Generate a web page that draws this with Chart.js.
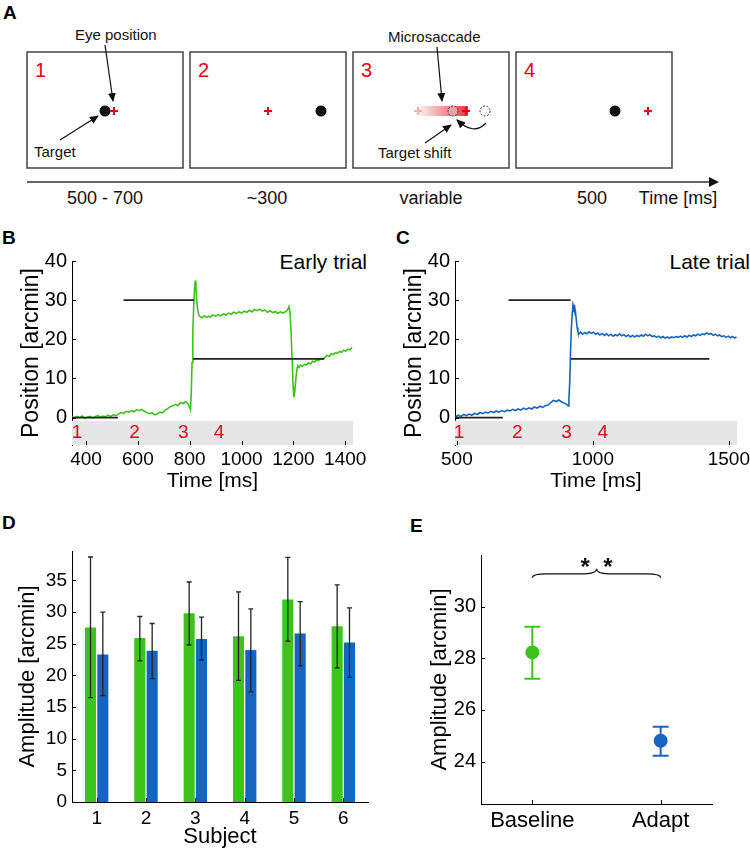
<!DOCTYPE html>
<html>
<head>
<meta charset="utf-8">
<script src="https://cdn.jsdelivr.net/npm/chart.js@4.4.1/dist/chart.umd.min.js"></script>
<style>
    body { margin: 0; background: #fff; font-family: "Liberation Sans", Arial, sans-serif; }
    #fig { position: relative; width: 750px; height: 853px; overflow: hidden; }
    canvas { position: absolute; }
    .panel { position: absolute; font-weight: bold; font-size: 19px; line-height: 1; }
    .note { position: absolute; font-size: 21px; line-height: 1; white-space: nowrap; }
</style>
</head>
<body>
<div id="fig">
    <!-- Panel A: trial schematic -->
    <svg width="750" height="212" style="position:absolute;left:0;top:0" font-family="Liberation Sans, Arial, sans-serif">
        <defs>
            <marker id="ah" markerWidth="9" markerHeight="8" refX="8" refY="4" orient="auto" markerUnits="userSpaceOnUse">
                <path d="M0,0 L9,4 L0,8 z" fill="#111"/>
            </marker>
            <linearGradient id="sweep" x1="0" x2="1" y1="0" y2="0">
                <stop offset="0" stop-color="#e8141e" stop-opacity="0.04"/>
                <stop offset="1" stop-color="#e8141e" stop-opacity="0.85"/>
            </linearGradient>
        </defs>
        <g fill="none" stroke="#444" stroke-width="1.5">
            <rect x="27" y="52" width="156" height="116"/>
            <rect x="190" y="52" width="156" height="116"/>
            <rect x="353" y="52" width="156" height="116"/>
            <rect x="516" y="52" width="156" height="116"/>
        </g>
        <g fill="#e3001b" font-size="20">
            <text x="35" y="77">1</text>
            <text x="198" y="77">2</text>
            <text x="361" y="77">3</text>
            <text x="524" y="77">4</text>
        </g>
        <!-- box 1 -->
        <circle cx="105" cy="111" r="5.5" fill="#111"/>
        <path d="M110 111 H118 M114 107 V115" stroke="#e3001b" stroke-width="2"/>
        <text x="75" y="40" font-size="15" fill="#111">Eye position</text>
        <line x1="105" y1="45" x2="113" y2="101" stroke="#111" stroke-width="1.2" marker-end="url(#ah)"/>
        <text x="34" y="157" font-size="15" fill="#111">Target</text>
        <line x1="60" y1="140" x2="98" y2="116" stroke="#111" stroke-width="1.2" marker-end="url(#ah)"/>
        <!-- box 2 -->
        <path d="M264 111 H272 M268 107 V115" stroke="#e3001b" stroke-width="2"/>
        <circle cx="321" cy="111" r="5.5" fill="#111"/>
        <!-- box 3 -->
        <rect x="418" y="106" width="50" height="10" fill="url(#sweep)"/>
        <path d="M414 111 H422 M418 107 V115" stroke="#e3001b" stroke-opacity="0.3" stroke-width="2"/>
        <circle cx="453" cy="111" r="5" fill="#f3a0a8" stroke="#333" stroke-width="1" stroke-dasharray="2,1.5"/>
        <path d="M462 111 H470 M466 107 V115" stroke="#e3001b" stroke-width="2"/>
        <circle cx="485" cy="111" r="5" fill="none" stroke="#333" stroke-width="1" stroke-dasharray="2,1.5"/>
        <path d="M486 123 Q474 136 457 120" fill="none" stroke="#111" stroke-width="1.2" marker-end="url(#ah)"/>
        <text x="388" y="42" font-size="15" fill="#111">Microsaccade</text>
        <line x1="437" y1="47" x2="442" y2="101" stroke="#111" stroke-width="1.2" marker-end="url(#ah)"/>
        <text x="378" y="158" font-size="15" fill="#111">Target shift</text>
        <line x1="425" y1="143" x2="451" y2="125" stroke="#111" stroke-width="1.2" marker-end="url(#ah)"/>
        <!-- box 4 -->
        <circle cx="615" cy="111" r="5.5" fill="#111"/>
        <path d="M644 111 H652 M648 107 V115" stroke="#e3001b" stroke-width="2"/>
        <!-- timeline -->
        <line x1="27" y1="182" x2="710" y2="182" stroke="#333" stroke-width="1.5"/>
        <polygon points="709,177 719,182 709,187" fill="#111"/>
        <g font-size="18" fill="#111" text-anchor="middle">
            <text x="105" y="204">500 - 700</text>
            <text x="267" y="204">~300</text>
            <text x="431" y="204">variable</text>
            <text x="592" y="204">500</text>
            <text x="678" y="204">Time [ms]</text>
        </g>
    </svg>
    <div class="panel" style="left:3px;top:3px">A</div>
    <div class="panel" style="left:2px;top:228px">B</div>
    <div class="panel" style="left:396px;top:228px">C</div>
    <div class="panel" style="left:2px;top:513px">D</div>
    <div class="panel" style="left:410px;top:516px">E</div>
    <div class="note" style="right:383px;top:251px">Early trial</div>
    <div class="note" style="right:0px;top:251px">Late trial</div>

    <canvas id="chartB" width="360" height="248" style="left:15px;top:250px"></canvas>
    <canvas id="chartC" width="352" height="248" style="left:398px;top:250px"></canvas>
    <canvas id="chartD" width="370" height="313" style="left:11px;top:540px"></canvas>
    <canvas id="chartE" width="309" height="308" style="left:423px;top:545px"></canvas>
</div>

<script>
// ---- Data ----

// B: early trial eye trace
const timeB = [345, 355, 365, 375, 385, 395, 405, 415, 425, 435, 445, 455, 465, 475, 485, 495, 505, 515, 525, 535,
    545, 555, 565, 575, 585, 595, 605, 615, 625, 635, 645, 655, 665, 675, 685, 695, 705, 715, 725, 735,
    745, 755, 765, 775, 785, 793, 799, 803, 806, 809, 812, 815, 818, 821, 824, 827, 831, 835, 840, 848,
    856, 864, 872, 880, 890, 900, 910, 920, 930, 940, 950, 960, 970, 980, 990, 1000, 1010, 1020, 1030, 1040,
    1050, 1060, 1070, 1080, 1090, 1100, 1110, 1120, 1130, 1140, 1150, 1160, 1170, 1178, 1183, 1187, 1191, 1195, 1199, 1202,
    1205, 1209, 1213, 1217, 1222, 1228, 1235, 1243, 1250, 1258, 1266, 1274, 1282, 1290, 1298, 1306, 1314, 1322, 1330, 1338,
    1346, 1354, 1362, 1370, 1378, 1386, 1394, 1402, 1410, 1418, 1426];
const posB = [0.2, -0.1, 0.3, 0.0, 0.4, -0.2, 0.1, 0.3, -0.1, 0.2, 0.5, 0.1, 0.4, 0.2, 0.6, 0.3, 0.7, 0.5, 0.9, 1.3,
    1.1, 1.6, 1.4, 1.8, 1.5, 2.0, 1.8, 2.1, 1.6, 1.3, 1.0, 1.2, 0.7, 1.0, 1.4, 1.2, 1.9, 2.3, 2.8, 3.0,
    3.4, 3.1, 3.8, 3.6, 4.1, 3.5, 2.8, 2.0, 6.0, 14.0, 22.0, 27.5, 32.0, 35.0, 33.5, 30.0, 27.5, 26.3, 25.8, 25.5,
    26.0, 25.6, 25.9, 25.7, 26.2, 25.9, 26.3, 26.0, 26.5, 26.2, 26.7, 26.4, 26.9, 26.6, 27.0, 26.7, 27.2, 26.9, 27.4, 27.0,
    27.6, 27.3, 27.7, 27.2, 27.5, 26.9, 27.3, 26.8, 27.1, 26.6, 27.0, 26.7, 27.1, 27.6, 28.4, 27.0, 22.0, 15.0, 8.0, 5.2,
    6.5, 9.5, 12.0, 13.3, 12.8, 13.4, 13.1, 13.6, 13.4, 14.0, 13.7, 14.4, 14.2, 14.8, 14.6, 15.1, 14.9, 15.4, 15.9, 15.6,
    16.3, 16.1, 16.6, 16.4, 16.9, 16.7, 17.2, 17.0, 17.5, 17.3, 17.9];
const targetStartB = [346, 545, 813];
const targetEndB = [523, 817, 1319];
const targetPosB = [0, 30, 15];
const phaseTimeB = [365, 587, 775, 913];
const xTicksB = [400, 600, 800, 1000, 1200, 1400];

// C: late trial eye trace
const timeC = [495, 505, 515, 525, 535, 545, 555, 565, 575, 585, 595, 605, 615, 625, 635, 645, 655, 665, 675, 685,
    695, 705, 715, 725, 735, 745, 755, 765, 775, 785, 795, 805, 815, 825, 835, 845, 855, 865, 875, 885,
    895, 903, 909, 912, 915, 918, 921, 924, 927, 930, 933, 936, 939, 942, 945, 949, 955, 962, 970, 978,
    986, 994, 1002, 1010, 1018, 1026, 1034, 1042, 1050, 1058, 1066, 1074, 1082, 1090, 1098, 1106, 1114, 1122, 1130, 1138,
    1146, 1154, 1162, 1170, 1178, 1186, 1194, 1202, 1210, 1218, 1226, 1234, 1242, 1250, 1258, 1266, 1274, 1282, 1290, 1298,
    1306, 1314, 1322, 1330, 1338, 1346, 1354, 1362, 1370, 1378, 1386, 1394, 1402, 1410, 1418, 1426, 1434, 1442, 1450, 1458,
    1466, 1474, 1482, 1490, 1498, 1506, 1514, 1522, 1528];
const posC = [0.2, 0.6, 0.3, 0.8, 0.5, 0.9, 0.6, 1.1, 0.8, 1.3, 1.0, 1.4, 1.2, 1.6, 1.3, 1.7, 1.4, 1.8, 1.5, 1.9,
    1.7, 2.1, 1.8, 2.2, 1.9, 2.4, 2.1, 2.5, 2.2, 2.7, 2.4, 2.9, 2.6, 3.0, 3.2, 3.8, 4.4, 4.1, 4.5, 4.0,
    3.7, 3.4, 3.0, 5.0, 9.0, 17.0, 23.0, 26.5, 28.8, 27.8, 28.3, 27.0, 25.0, 23.0, 22.0, 21.4, 21.8, 21.3, 21.7, 21.4,
    21.9, 21.5, 21.8, 21.3, 21.6, 21.1, 21.5, 21.0, 21.4, 20.9, 21.3, 20.8, 21.2, 20.9, 21.4, 20.9, 21.2, 20.7, 21.1, 20.6,
    21.0, 20.6, 21.0, 20.7, 21.1, 20.8, 21.3, 20.9, 21.2, 20.7, 20.9, 20.5, 20.8, 20.4, 20.7, 20.3, 20.6, 20.3, 20.6, 20.4,
    20.7, 20.5, 20.8, 20.5, 20.9, 20.6, 21.0, 20.7, 21.1, 20.9, 21.3, 21.0, 21.4, 21.2, 21.6, 21.3, 21.5, 21.0, 21.3, 20.9,
    21.1, 20.7, 20.9, 20.5, 20.8, 20.4, 20.7, 20.3, 20.6];
const targetStartC = [493, 690, 918];
const targetEndC = [669, 918, 1428];
const targetPosC = [0, 30, 15];
const phaseTimeC = [508, 722, 903, 1036];
const xTicksC = [500, 1000, 1500];

const yTicksTrace = [0, 10, 20, 30, 40];
const phaseLabels = ['1', '2', '3', '4'];

// D: amplitude per subject
const subjects = ['1', '2', '3', '4', '5', '6'];
const baseAmp = [27.55, 25.9, 29.8, 26.2, 32.0, 27.75];
const baseLo = [16.5, 22.3, 24.8, 19.2, 25.4, 21.2];
const baseHi = [38.7, 29.3, 34.75, 33.2, 38.65, 34.3];
const adaptAmp = [23.3, 23.9, 25.75, 24.0, 26.6, 25.2];
const adaptLo = [16.8, 19.5, 22.4, 17.4, 21.5, 19.7];
const adaptHi = [30.0, 28.2, 29.2, 30.5, 31.65, 30.65];
const yTicksD = [0, 5, 10, 15, 20, 25, 30, 35];

// E: group means
const groups = ['Baseline', 'Adapt'];
const meanAmp = [28.23, 24.81];
const meanLo = [27.21, 24.23];
const meanHi = [29.22, 25.35];
const yTicksE = [24, 26, 28, 30];
const sigPair = [1, 2];
const sigLevel = 31.27;
const sigLabel = '*  *';

// ---- Style ----
const GREEN = '#3cc41a';
const BLUE = '#1565c0';
const RED = '#e3001b';
const FONT = '"Liberation Sans", Arial, sans-serif';

Chart.defaults.font.family = FONT;
Chart.defaults.color = '#000';

// MATLAB-style tick marks pointing into the plot
const insideTicks = {
    id: 'insideTicks',
    afterDraw(chart, args, opts) {
        const ctx = chart.ctx;
        const len = opts.len || 4;
        const xs = chart.scales.x, ys = chart.scales.y;
        ctx.save();
        ctx.strokeStyle = '#000';
        ctx.lineWidth = 1;
        ctx.beginPath();
        ys.ticks.forEach((t, i) => {
            const py = Math.round(ys.getPixelForTick(i)) + 0.5;
            ctx.moveTo(ys.right, py);
            ctx.lineTo(ys.right + len, py);
        });
        xs.ticks.forEach((t, i) => {
            const px = Math.round(xs.getPixelForTick(i)) + 0.5;
            ctx.moveTo(px, xs.top);
            ctx.lineTo(px, xs.top - len);
        });
        ctx.stroke();
        ctx.restore();
    }
};

// red phase numbers inside the grey band
const phaseMarks = {
    id: 'phaseMarks',
    afterDatasetsDraw(chart, args, opts) {
        if (!opts.times) return;
        const ctx = chart.ctx;
        ctx.save();
        ctx.fillStyle = RED;
        ctx.font = '19px ' + FONT;
        ctx.textAlign = 'center';
        ctx.textBaseline = 'middle';
        opts.times.forEach((t, i) => {
            ctx.fillText(opts.labels[i], chart.scales.x.getPixelForValue(t), chart.scales.y.getPixelForValue(opts.y));
        });
        ctx.restore();
    }
};

const errorBars = {
    id: 'errorBars',
    afterDatasetsDraw(chart) {
        const ctx = chart.ctx, ys = chart.scales.y;
        chart.data.datasets.forEach((ds, di) => {
            if (!ds.errLo) return;
            const meta = chart.getDatasetMeta(di);
            ctx.save();
            ctx.strokeStyle = ds.errColor;
            ctx.lineWidth = ds.errWidth;
            meta.data.forEach((el, i) => {
                const x = el.x;
                const lo = ys.getPixelForValue(ds.errLo[i]);
                const hi = ys.getPixelForValue(ds.errHi[i]);
                ctx.beginPath();
                ctx.moveTo(x, lo); ctx.lineTo(x, hi);
                ctx.moveTo(x - ds.capHalf, lo); ctx.lineTo(x + ds.capHalf, lo);
                ctx.moveTo(x - ds.capHalf, hi); ctx.lineTo(x + ds.capHalf, hi);
                ctx.stroke();
            });
            ctx.restore();
        });
    }
};

// significance brace for panel E
const sigBrace = {
    id: 'sigBrace',
    afterDraw(chart) {
        const ctx = chart.ctx;
        const x1 = chart.scales.x.getPixelForValue(sigPair[0]);
        const x2 = chart.scales.x.getPixelForValue(sigPair[1]);
        const xm = (x1 + x2) / 2;
        const yb = chart.scales.y.getPixelForValue(sigLevel);
        ctx.save();
        ctx.strokeStyle = '#111';
        ctx.lineWidth = 1.2;
        ctx.beginPath();
        ctx.moveTo(x1, yb + 4);
        ctx.quadraticCurveTo(x1, yb, x1 + 14, yb);
        ctx.lineTo(xm - 12, yb);
        ctx.quadraticCurveTo(xm, yb, xm, yb - 5);
        ctx.quadraticCurveTo(xm, yb, xm + 12, yb);
        ctx.lineTo(x2 - 14, yb);
        ctx.quadraticCurveTo(x2, yb, x2, yb + 4);
        ctx.stroke();
        ctx.fillStyle = '#111';
        ctx.font = 'bold 24px ' + FONT;
        ctx.textAlign = 'center';
        ctx.textBaseline = 'alphabetic';
        ctx.fillText(sigLabel, xm, yb + 1);
        ctx.restore();
    }
};

const toPoints = (xs, ys) => xs.map((x, i) => ({ x: x, y: ys[i] }));

const segments = (starts, ends, levels) => {
    const pts = [];
    starts.forEach((s, i) => {
        pts.push({ x: s, y: levels[i] }, { x: ends[i], y: levels[i] }, { x: ends[i], y: null });
    });
    return pts;
};

const fixedTicks = list => scale => { scale.ticks = list.map(v => ({ value: v })); };

const noGrid = { display: false, drawTicks: false };

// ---- Eye trace panels (B, C) ----
const traceChart = (id, cfg) => {
    new Chart(document.getElementById(id), {
        type: 'line',
        data: {
            datasets: [
                {
                    data: segments(cfg.tStart, cfg.tEnd, cfg.tPos),
                    borderColor: '#222',
                    borderWidth: 1.6,
                    pointRadius: 0,
                    spanGaps: false,
                    order: 0
                },
                {
                    data: toPoints(cfg.time, cfg.pos),
                    borderColor: cfg.color,
                    borderWidth: 1.6,
                    pointRadius: 0,
                    tension: 0,
                    order: 1
                },
                {
                    data: [{ x: cfg.xMin, y: -0.8 }, { x: cfg.xMax, y: -0.8 }],
                    borderWidth: 0,
                    pointRadius: 0,
                    backgroundColor: '#e6e6e6',
                    fill: { value: -7 },
                    order: 2
                }
            ]
        },
        options: {
            responsive: false,
            animation: false,
            devicePixelRatio: 1,
            layout: { padding: { top: 11, right: cfg.padRight, left: 0, bottom: 0 } },
            plugins: {
                legend: { display: false },
                tooltip: { enabled: false },
                insideTicks: { len: 4 },
                phaseMarks: { times: cfg.phases, labels: phaseLabels, y: -4 }
            },
            scales: {
                x: {
                    type: 'linear',
                    min: cfg.xMin,
                    max: cfg.xMax,
                    afterBuildTicks: fixedTicks(cfg.xTicks),
                    afterFit: s => { s.height = 53; s.paddingLeft = 0; s.paddingRight = 0; },
                    grid: noGrid,
                    border: { display: false },
                    ticks: { font: { size: 19 }, padding: 3, maxRotation: 0, callback: v => String(v) },
                    title: { display: true, text: 'Time [ms]', font: { size: 21 }, padding: { top: 4, bottom: 4 } }
                },
                y: {
                    min: -7,
                    max: 40,
                    afterBuildTicks: fixedTicks(yTicksTrace),
                    afterFit: s => { s.width = 57; s.paddingTop = 0; s.paddingBottom = 0; },
                    grid: noGrid,
                    border: { display: true, color: '#000', width: 1 },
                    ticks: { font: { size: 20 }, padding: 5, callback: v => String(v) },
                    title: { display: true, text: 'Position [arcmin]', font: { size: 23 }, padding: { top: 3, bottom: 3 } }
                }
            }
        },
        plugins: [insideTicks, phaseMarks]
    });
};

traceChart('chartB', {
    time: timeB, pos: posB, color: GREEN,
    tStart: targetStartB, tEnd: targetEndB, tPos: targetPosB,
    phases: phaseTimeB, xTicks: xTicksB, xMin: 346, xMax: 1430, padRight: 22
});

traceChart('chartC', {
    time: timeC, pos: posC, color: BLUE,
    tStart: targetStartC, tEnd: targetEndC, tPos: targetPosC,
    phases: phaseTimeC, xTicks: xTicksC, xMin: 493, xMax: 1530, padRight: 13
});

// ---- D: bars per subject ----
new Chart(document.getElementById('chartD'), {
    type: 'bar',
    data: {
        labels: subjects,
        datasets: [
            {
                data: baseAmp,
                backgroundColor: GREEN,
                errLo: baseLo, errHi: baseHi, errColor: '#222', errWidth: 1.3, capHalf: 2.5
            },
            {
                data: adaptAmp,
                backgroundColor: BLUE,
                errLo: adaptLo, errHi: adaptHi, errColor: '#222', errWidth: 1.3, capHalf: 2.5
            }
        ]
    },
    options: {
        responsive: false,
        animation: false,
        devicePixelRatio: 1,
        layout: { padding: { top: 11, right: 13, left: 0, bottom: 0 } },
        datasets: { bar: { categoryPercentage: 0.5, barPercentage: 0.9 } },
        plugins: {
            legend: { display: false },
            tooltip: { enabled: false },
            insideTicks: { len: 4 }
        },
        scales: {
            x: {
                afterFit: s => { s.height = 51; s.paddingLeft = 0; s.paddingRight = 0; },
                grid: noGrid,
                border: { display: true, color: '#000', width: 1 },
                ticks: { font: { size: 19 }, padding: 5 },
                title: { display: true, text: 'Subject', font: { size: 22 }, padding: { top: 4, bottom: 3 } }
            },
            y: {
                min: 0,
                max: 39.65,
                afterBuildTicks: fixedTicks(yTicksD),
                afterFit: s => { s.width = 61; s.paddingTop = 0; s.paddingBottom = 0; },
                grid: noGrid,
                border: { display: true, color: '#000', width: 1 },
                ticks: { font: { size: 19 }, padding: 5, callback: v => String(v) },
                title: { display: true, text: 'Amplitude [arcmin]', font: { size: 22 }, padding: { top: 4, bottom: 4 } }
            }
        }
    },
    plugins: [insideTicks, errorBars]
});

// ---- E: group means ----
new Chart(document.getElementById('chartE'), {
    type: 'scatter',
    data: {
        datasets: [
            {
                data: [{ x: 1, y: meanAmp[0] }],
                pointRadius: 7,
                pointBackgroundColor: GREEN,
                pointBorderWidth: 0,
                errLo: [meanLo[0]], errHi: [meanHi[0]], errColor: GREEN, errWidth: 2, capHalf: 8
            },
            {
                data: [{ x: 2, y: meanAmp[1] }],
                pointRadius: 7,
                pointBackgroundColor: BLUE,
                pointBorderWidth: 0,
                errLo: [meanLo[1]], errHi: [meanHi[1]], errColor: BLUE, errWidth: 2, capHalf: 8
            }
        ]
    },
    options: {
        responsive: false,
        animation: false,
        devicePixelRatio: 1,
        layout: { padding: { top: 10, right: 20, left: 0, bottom: 0 } },
        plugins: {
            legend: { display: false },
            tooltip: { enabled: false },
            insideTicks: { len: 4 }
        },
        scales: {
            x: {
                type: 'linear',
                min: 0.6,
                max: 2.4,
                afterBuildTicks: fixedTicks([1, 2]),
                afterFit: s => { s.height = 49; s.paddingLeft = 0; s.paddingRight = 0; },
                grid: noGrid,
                border: { display: true, color: '#000', width: 1 },
                ticks: { font: { size: 22 }, padding: 4, callback: v => groups[v - 1] }
            },
            y: {
                min: 22.36,
                max: 32.0,
                afterBuildTicks: fixedTicks(yTicksE),
                afterFit: s => { s.width = 58; s.paddingTop = 0; s.paddingBottom = 0; },
                grid: noGrid,
                border: { display: true, color: '#000', width: 1 },
                ticks: { font: { size: 20 }, padding: 5, callback: v => String(v) },
                title: { display: true, text: 'Amplitude [arcmin]', font: { size: 22 }, padding: { top: 4, bottom: 4 } }
            }
        }
    },
    plugins: [insideTicks, errorBars, sigBrace]
});
</script>
</body>
</html>
